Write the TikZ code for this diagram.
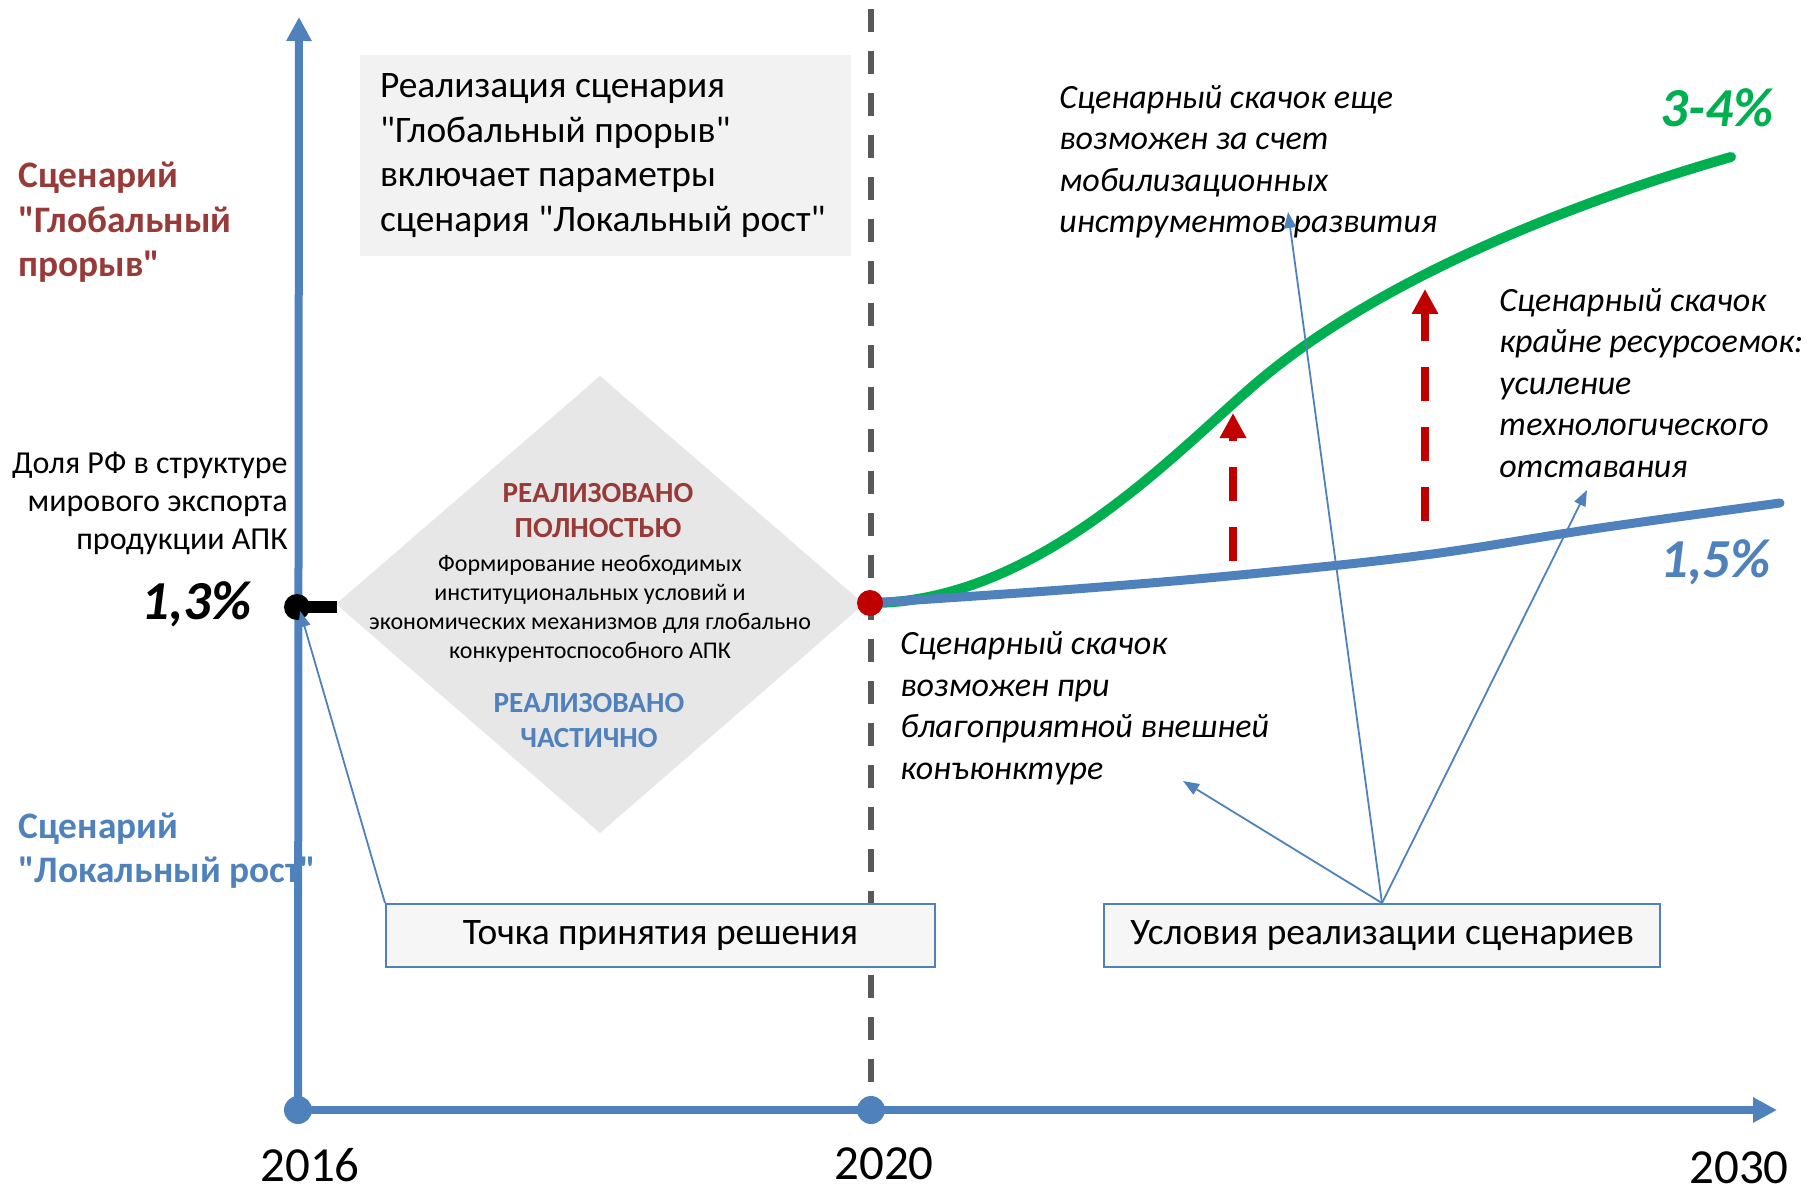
\documentclass[tikz,border=0pt]{standalone}
\usepackage{fontspec}
\setmainfont{Carlito}[Ligatures=TeXOff]
\usetikzlibrary{arrows.meta}
\definecolor{axblue}{HTML}{4F81BD}
\definecolor{upgreen}{HTML}{00B050}
\definecolor{jumpred}{HTML}{C00000}
\definecolor{scred}{HTML}{983A38}
\definecolor{dashgray}{HTML}{595959}
\definecolor{rhomb}{HTML}{E7E7E7}
\definecolor{boxgray}{HTML}{F2F2F2}
\definecolor{boxwhite}{HTML}{F6F6F6}
\newcommand\txtmain{\fontsize{18.7}{22.3}\selectfont}
\newcommand\txtscen{\bfseries\fontsize{18.7}{22.3}\selectfont}
\newcommand\txtnote{\itshape\fontsize{17}{20.75}\selectfont}
\newcommand\txtsmall{\fontsize{12}{14.5}\selectfont}
\newcommand\txtcaps{\bfseries\fontsize{14.6}{17.5}\selectfont}
\newcommand\txtpct{\bfseries\itshape\fontsize{27.5}{30}\selectfont}
\newcommand\txtyear{\fontsize{24.5}{28}\selectfont}
\newcommand\txtshare{\fontsize{16}{19}\selectfont}
\begin{document}
\begin{tikzpicture}[x=0.5pt,y=-0.5pt,
    txt/.style={inner sep=0pt},
    axis/.style={draw=axblue,line width=4pt,-{Triangle[length=12pt,width=12pt]}},
    curve/.style={line width=#1,line cap=round},
    jump/.style={draw=jumpred,line width=4pt,dash pattern=on 17pt off 13pt,-{Triangle[length=12.5pt,width=12.5pt]}},
    pointer/.style={draw=axblue,line width=0.9pt,-{Triangle[length=8pt,width=6pt]}},
    labelbox/.style={draw=axblue,line width=1pt,fill=boxwhite,minimum height=31.5pt,inner sep=0pt,font=\txtmain}]
    \useasboundingbox (0,0) rectangle (1814,1192);
    %
    \node[fill=boxgray,text width=225.5pt,inner xsep=10pt,minimum height=100.5pt,align=flush left,font=\txtmain] (note) at (605.5,155.5) {Реализация сценария\\"Глобальный прорыв"\\включает параметры\\сценария "Локальный рост"};
    %
    \coordinate (rt) at (600,376); \coordinate (rr) at (864,604);
    \coordinate (rb) at (600,833); \coordinate (rl) at (336,604);
    \fill[rhomb] (rt) -- (rr) -- (rb) -- (rl) -- cycle;
    \node[txt,align=center,text=scred,font=\txtcaps] (full) at (598,511) {РЕАЛИЗОВАНО\\ПОЛНОСТЬЮ};
    \node[txt,align=center,font=\txtsmall] (formir) at (590,608.5) {Формирование необходимых\\институциональных условий и\\экономических механизмов для глобально\\конкурентоспособного АПК};
    \node[txt,align=center,text=axblue,font=\txtcaps] (part) at (589,721) {РЕАЛИЗОВАНО\\ЧАСТИЧНО};
    %
    \node[txt,align=left,anchor=west,text=scred,font=\txtscen] (glob) at (18,222.5) {Сценарий\\"Глобальный\\прорыв"};
    \node[txt,align=left,anchor=west,text=axblue,font=\txtscen] (lokal) at (18,850.5) {Сценарий\\"Локальный рост"};
    \node[txt,align=right,anchor=east,font=\txtshare] (share) at (288,503) {Доля РФ в структуре\\мирового экспорта\\продукции АПК};
    \node[txt,anchor=base east,font=\txtpct] (v13) at (252,619) {1,3\%};
    %
    \coordinate (ltop) at (871,9); \coordinate (lbot) at (871,1085);
    \draw[dashgray,line width=3pt,dash pattern=on 11.5pt off 9.5pt] (ltop) -- (lbot);
    %
    \coordinate (start) at (870,603); \coordinate (bend) at (1260,380); \coordinate (gend) at (1731,157);
    \coordinate (bluend) at (1780,503);
    \draw[upgreen,curve=5pt] (start) .. controls (1040,603) and (1180,447) .. (bend)
        .. controls (1385,275) and (1581,200) .. (gend);
    \draw[axblue,curve=4.5pt] plot[smooth,tension=0.6] coordinates {(start) (1075,589) (1250,574) (1425,555) (1600,528) (bluend)};
    %
    \coordinate (j1a) at (1233,561); \coordinate (j1b) at (1233,413);
    \coordinate (j2a) at (1425,521); \coordinate (j2b) at (1425,289);
    \draw[jump] (j1a) -- (j1b);
    \draw[jump] (j2a) -- (j2b);
    %
    \coordinate (o) at (298,1110); \coordinate (ytip) at (299,17);
    \coordinate (xtip) at (1777,1110); \coordinate (t20) at (871,1110);
    \draw[axis] (o) -- (ytip);
    \draw[axis] (o) -- (xtip);
    \fill[axblue] (o) circle (7pt) (t20) circle (7pt);
    %
    \coordinate (v0) at (297,607); \coordinate (v0bar) at (337,607);
    \draw[line width=6pt] (v0) -- (v0bar);
    \fill (v0) circle (6.5pt);
    \fill[jumpred] (start) circle (6.5pt);
    %
    \node[labelbox,minimum width=274.5pt] (decision) at (660.5,935.5) {Точка принятия решения};
    \node[labelbox,minimum width=278pt] (conds) at (1382,935.5) {Условия реализации сценариев};
    %
    \node[txt,align=left,anchor=west,font=\txtnote] (mobil) at (1059,162) {Сценарный скачок еще\\возможен за счет\\мобилизационных\\инструментов развития};
    \node[txt,align=left,anchor=west,font=\txtnote] (resurs) at (1499,383) {Сценарный скачок\\крайне ресурсоемок:\\усиление\\технологического\\отставания};
    \node[txt,align=left,anchor=west,font=\txtnote] (conj) at (900,708.5) {Сценарный скачок\\возможен при\\благоприятной внешней\\конъюнктуре};
    %
    \coordinate (p13) at (300,611);
    \coordinate (toconj) at (1183,781); \coordinate (tomobil) at (1288,212); \coordinate (toresurs) at (1587,490);
    \draw[pointer] (decision.north west) -- (p13);
    \draw[pointer] (conds.north) -- (toconj);
    \draw[pointer] (conds.north) -- (tomobil);
    \draw[pointer] (conds.north) -- (toresurs);
    %
    \node[txt,anchor=base east,text=upgreen,font=\txtpct] (v34) at (1774,127) {3-4\%};
    \node[txt,anchor=base east,text=axblue,font=\txtpct] (v15) at (1771,577) {1,5\%};
    %
    \node[txt,anchor=base,font=\txtyear] (y16) at (310,1181) {2016};
    \node[txt,anchor=base,font=\txtyear] (y20) at (884,1179) {2020};
    \node[txt,anchor=base,font=\txtyear] (y30) at (1739,1183) {2030};
\end{tikzpicture}
\end{document}
